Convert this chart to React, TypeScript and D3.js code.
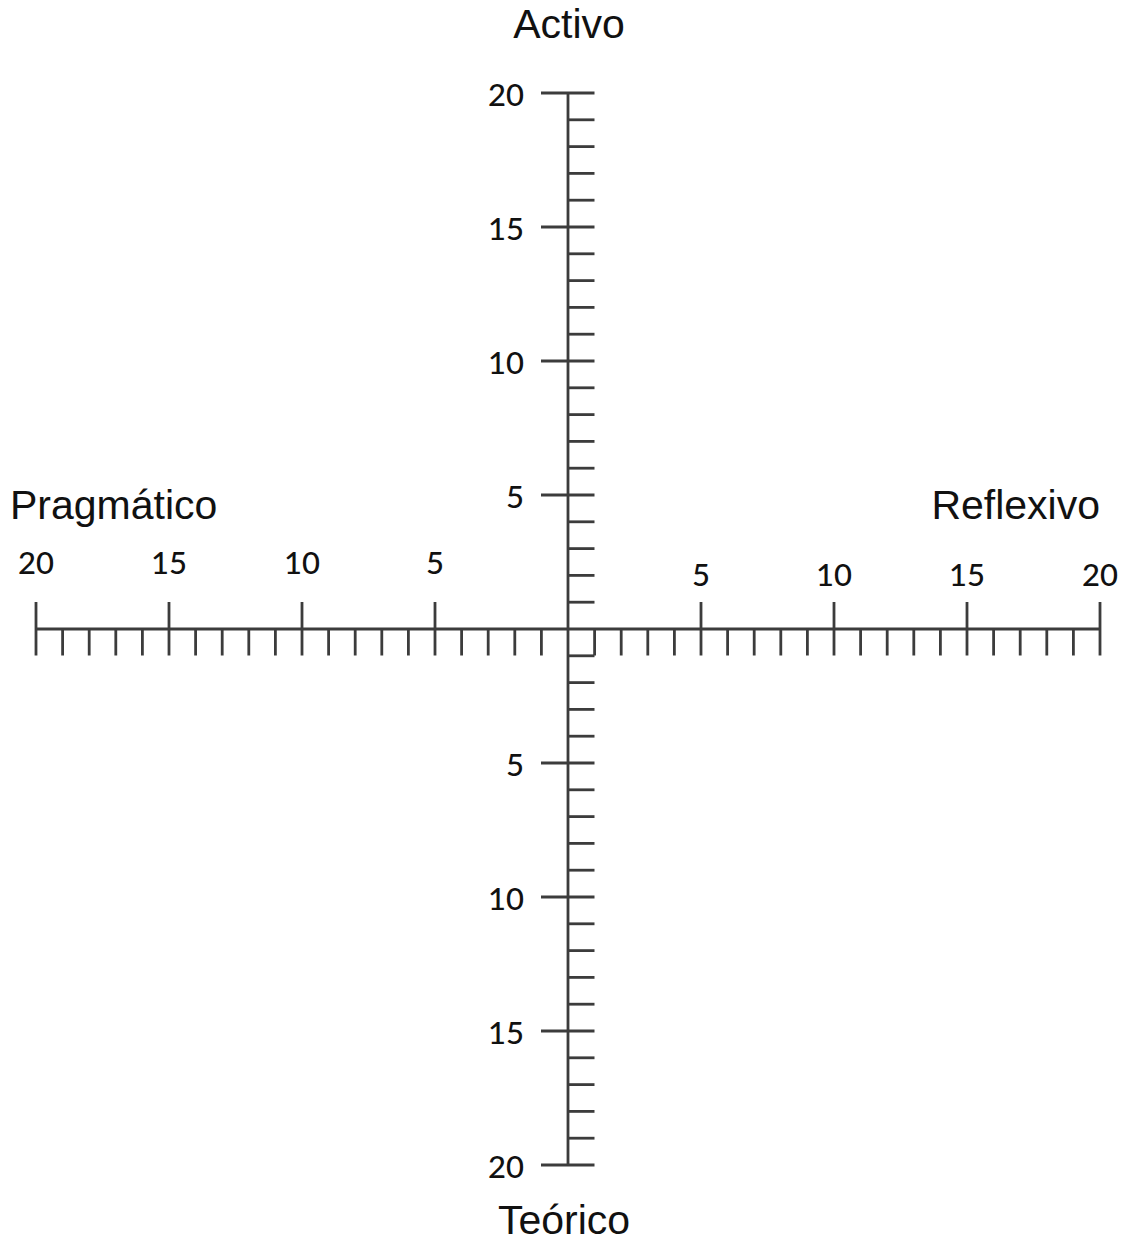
import React from "react";
import * as d3 from "d3";

const W = 1130;
const H = 1247;

// Data
const axisExtent = [-20, 20];
const majorTicks = [-20, -15, -10, -5, 5, 10, 15, 20];
const minorTicks = d3.range(-20, 21).filter((v) => v !== 0 && v % 5 !== 0);
const tickLabels = ["20", "15", "10", "5", "5", "10", "15", "20"];
const poleTop = "Activo";
const poleBottom = "Teórico";
const poleLeft = "Pragmático";
const poleRight = "Reflexivo";

const stroke = "#3c3c3c";
const sw = 2.8;
const labelFont = "Lato, 'Noto Sans', sans-serif";
const titleFont = "'Liberation Sans', Arial, sans-serif";

export default function App() {
  const x = d3.scaleLinear().domain(axisExtent).range([36, 1100]);
  const y = d3.scaleLinear().domain(axisExtent).range([1165, 93]);
  const cx = x(0);
  const cy = y(0);
  const major = 27;
  const minor = 26.5;

  return (
    <svg
      width={W}
      height={H}
      style={{ position: "absolute", left: 0, top: 0, background: "#fff" }}
    >
      <rect width={W} height={H} fill="#fff" />
      {/* horizontal axis */}
      <line x1={x(-20)} x2={x(20)} y1={cy} y2={cy} stroke={stroke} strokeWidth={sw} />
      {/* vertical axis */}
      <line x1={cx} x2={cx} y1={y(20)} y2={y(-20)} stroke={stroke} strokeWidth={sw} />

      {/* horizontal major ticks */}
      {majorTicks.map((v) => (
        <line key={"hm" + v} x1={x(v)} x2={x(v)} y1={cy - major} y2={cy + minor} stroke={stroke} strokeWidth={sw} />
      ))}
      {/* horizontal minor ticks */}
      {minorTicks.map((v) => (
        <line key={"hn" + v} x1={x(v)} x2={x(v)} y1={cy} y2={cy + minor} stroke={stroke} strokeWidth={sw} />
      ))}
      {/* vertical major ticks */}
      {majorTicks.map((v) => (
        <line key={"vm" + v} x1={cx - major} x2={cx + minor} y1={y(v)} y2={y(v)} stroke={stroke} strokeWidth={sw} />
      ))}
      {/* vertical minor ticks */}
      {minorTicks.map((v) => (
        <line key={"vn" + v} x1={cx} x2={cx + minor} y1={y(v)} y2={y(v)} stroke={stroke} strokeWidth={sw} />
      ))}

      {/* horizontal labels */}
      {majorTicks.map((v, i) => (
        <text
          key={"hl" + v}
          x={x(v)}
          y={v < 0 ? cy - 67 : cy - 55}
          textAnchor="middle"
          dominantBaseline="central"
          fontFamily={labelFont}
          fontSize={31}
          fontWeight={500}
          fill="#111"
        >
          {tickLabels[i]}
        </text>
      ))}
      {/* vertical labels */}
      {majorTicks.map((v, i) => (
        <text
          key={"vl" + v}
          x={cx - 44}
          y={y(v) + 1}
          textAnchor="end"
          dominantBaseline="central"
          fontFamily={labelFont}
          fontSize={31}
          fontWeight={500}
          fill="#111"
        >
          {tickLabels[tickLabels.length - 1 - i]}
        </text>
      ))}

      {/* pole titles */}
      <text x={cx + 1} y={38} textAnchor="middle" fontFamily={titleFont} fontSize={41} fill="#111">
        {poleTop}
      </text>
      <text x={cx - 4} y={1234} textAnchor="middle" fontFamily={titleFont} fontSize={41} fill="#111">
        {poleBottom}
      </text>
      <text x={10} y={519} textAnchor="start" fontFamily={titleFont} fontSize={41} fill="#111">
        {poleLeft}
      </text>
      <text x={1100} y={519} textAnchor="end" fontFamily={titleFont} fontSize={41} fill="#111">
        {poleRight}
      </text>
    </svg>
  );
}
